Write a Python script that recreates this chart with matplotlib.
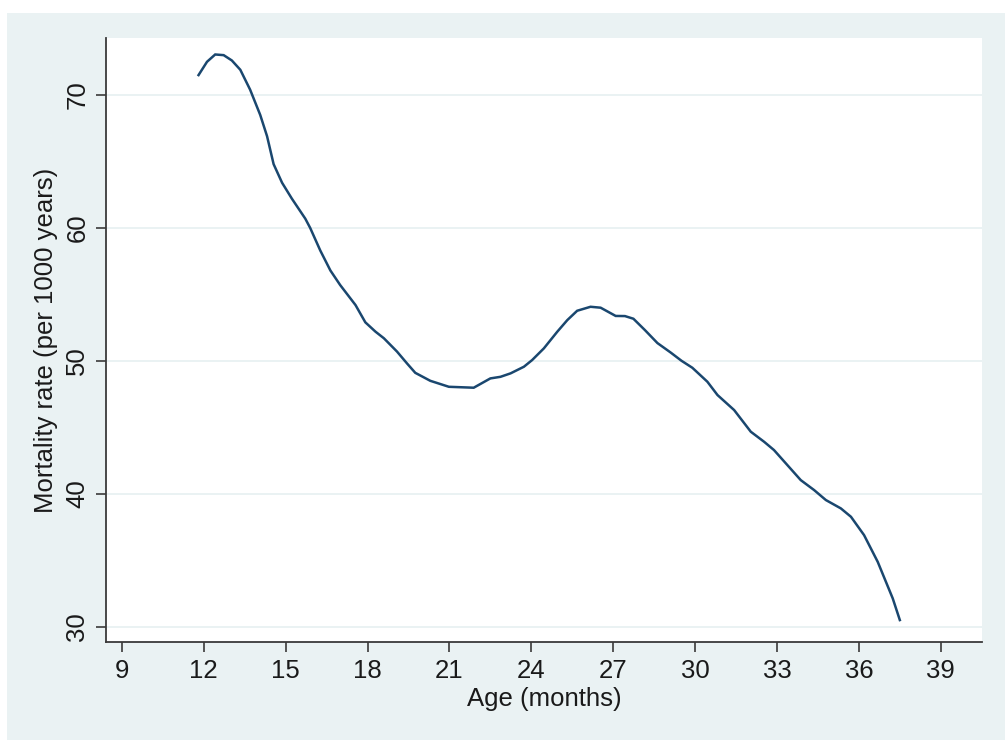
import matplotlib
matplotlib.use("Agg")
import matplotlib.pyplot as plt
from matplotlib.patches import Rectangle

# Smoothed mortality rate by age
age_months = [
    11.81, 12.12, 12.42, 12.73, 13.03, 13.34, 13.70, 14.07, 14.32, 14.56,
    14.87, 15.23, 15.72, 15.90, 16.27, 16.64, 17.00, 17.56, 17.92, 18.29,
    18.60, 19.08, 19.45, 19.75, 20.30, 20.98, 21.89, 22.50, 22.87, 23.24,
    23.73, 24.03, 24.46, 24.95, 25.32, 25.68, 26.17, 26.54, 27.09, 27.43,
    27.74, 28.16, 28.62, 29.11, 29.50, 29.90, 30.45, 30.82, 31.43, 32.04,
    32.53, 32.89, 33.38, 33.87, 34.36, 34.79, 35.34, 35.71, 36.19, 36.69,
    37.24, 37.50,
]
mortality_rate = [
    71.5, 72.5, 73.05, 73.0, 72.6, 71.9, 70.4, 68.5, 66.9, 64.8,
    63.4, 62.2, 60.7, 60.0, 58.3, 56.8, 55.7, 54.2, 52.9, 52.2,
    51.7, 50.7, 49.8, 49.1, 48.5, 48.05, 47.98, 48.68, 48.8, 49.06,
    49.56, 50.06, 50.94, 52.19, 53.07, 53.77, 54.07, 54.0, 53.38, 53.37,
    53.17, 52.32, 51.34, 50.62, 50.01, 49.48, 48.43, 47.43, 46.3, 44.67,
    43.91, 43.29, 42.16, 41.03, 40.28, 39.53, 38.9, 38.27, 36.89, 34.88,
    32.13, 30.5,
]
x_ticks = [9, 12, 15, 18, 21, 24, 27, 30, 33, 36, 39]
y_ticks = [30, 40, 50, 60, 70]

plt.rcParams["font.family"] = ["Liberation Sans", "DejaVu Sans"]

W, H = 1005, 740
fig = plt.figure(figsize=(W / 100, H / 100), dpi=100, facecolor="white")

# Light graph-region panel behind the plot
panel = Rectangle((7 / W, 0), 1 - 7 / W, 1 - 13 / H,
                  transform=fig.transFigure, facecolor="#eaf2f3",
                  edgecolor="none", zorder=-10)
fig.add_artist(panel)

left, right, top, bottom = 106 / W, 982 / W, 1 - 38 / H, 1 - 642 / H
ax = fig.add_axes([left, bottom, right - left, top - bottom], zorder=1)
ax.set_facecolor("white")

ax.plot(age_months, mortality_rate, color="#1a476f", linewidth=1.8,
        solid_joinstyle="miter", zorder=3)

ax.set_xlim(8.42, 40.51)
ax.set_ylim(28.85, 74.29)
ax.set_xticks(x_ticks)
ax.set_yticks(y_ticks)
ax.grid(axis="y", color="#eaf2f3", linewidth=1.4, zorder=1)
ax.grid(axis="x", visible=False)

for side in ("top", "right"):
    ax.spines[side].set_visible(False)
for side in ("left", "bottom"):
    ax.spines[side].set_color("#3a3a3a")
    ax.spines[side].set_linewidth(1.3)

ax.tick_params(axis="both", direction="out", length=7, width=1.2,
               color="#3a3a3a", labelsize=18.5, labelcolor="#1a1a1a")
ax.tick_params(axis="x", pad=5)
ax.tick_params(axis="y", pad=5)
for lbl in ax.get_yticklabels():
    lbl.set_rotation(90)
    lbl.set_va("center")

ax.set_xlabel("Age (months)", fontsize=18.5, color="#1a1a1a", labelpad=3)
ax.set_ylabel("Mortality rate (per 1000 years)", fontsize=18.5,
              color="#1a1a1a", labelpad=5)

fig.savefig("out.png", dpi=100, facecolor="white")
